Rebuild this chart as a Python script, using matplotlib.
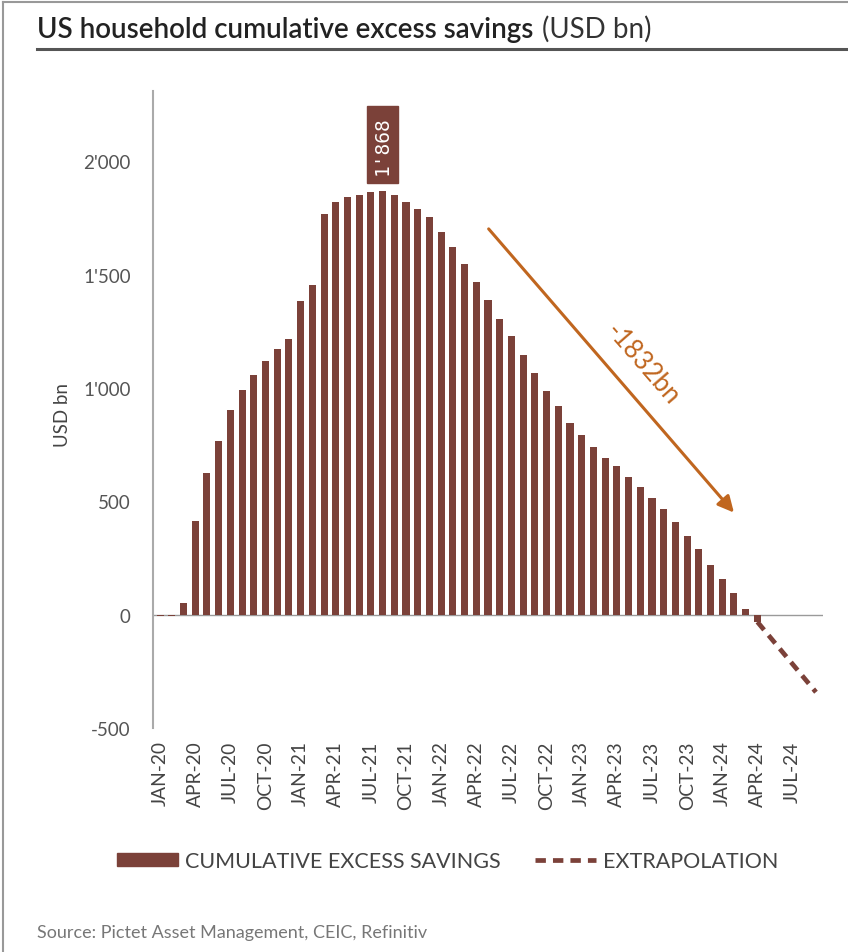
import matplotlib
matplotlib.use('Agg')
import matplotlib.pyplot as plt
from matplotlib.patches import Patch, Rectangle
from matplotlib.lines import Line2D

plt.rcParams['font.family'] = ['Lato', 'DejaVu Sans']

# cumulative excess savings per month, JAN-20 .. APR-24 (USD bn)
savings = [-8, -8, 53, 414, 625, 768, 904, 990, 1057, 1119,
           1172, 1216, 1385, 1454, 1766, 1821, 1843, 1850, 1866, 1868,
           1852, 1821, 1791, 1755, 1686, 1624, 1549, 1466, 1388, 1304,
           1228, 1145, 1066, 988, 922, 846, 793, 739, 692, 655,
           607, 563, 515, 464, 410, 349, 288, 219, 157, 97,
           26, -32]
# extrapolation APR-24 .. SEP-24
extrap = [-32, -94, -156, -218, -280, -342]
extrap_start = 51
tick_labels = ['JAN-20', 'APR-20', 'JUL-20', 'OCT-20', 'JAN-21', 'APR-21', 'JUL-21',
               'OCT-21', 'JAN-22', 'APR-22', 'JUL-22', 'OCT-22', 'JAN-23', 'APR-23',
               'JUL-23', 'OCT-23', 'JAN-24', 'APR-24', 'JUL-24']
yticks = [-500, 0, 500, 1000, 1500, 2000]
drop_label = '-1832bn'

brown = '#7b4139'
orange = '#c0661f'

W, H = 848, 953
def fx(x):
    return x / W
def fy(y):
    return 1 - y / H

fig = plt.figure(figsize=(W / 100, H / 100), dpi=100)
ax = fig.add_axes([fx(153), fy(729), (823 - 153) / W, (729 - 92) / H])

x = list(range(len(savings)))
ax.bar(x, savings, width=0.6, color=brown, zorder=3)
xe = list(range(extrap_start, extrap_start + len(extrap)))
ax.plot(xe, extrap, color=brown, lw=3.4, dashes=(2.2, 1.5), zorder=3)
ax.axhline(0, color='#9a9a9a', lw=1.0, zorder=2)

ax.set_xlim(-0.6, 56.6)
ax.set_ylim(-500, 2310)
ax.set_xticks(range(0, 3 * len(tick_labels), 3))
ax.set_xticklabels(tick_labels, rotation=90)
ax.set_yticks(yticks)
ax.set_yticklabels([f"{v:,}".replace(',', "'") for v in yticks])
ax.tick_params(axis='y', length=0, pad=16, labelsize=13.5, labelcolor='#555555')
ax.tick_params(axis='x', length=0, pad=9, labelsize=13.8, labelcolor='#444444')
for s in ['top', 'right', 'bottom']:
    ax.spines[s].set_visible(False)
ax.spines['left'].set_color('#aaaaaa')
ax.spines['left'].set_linewidth(1.5)

# peak value box
ipk = savings.index(max(savings))
pk = savings[ipk]
ax.add_patch(Rectangle((ipk - 1.33, pk + 35), 2.66, 340, color=brown, zorder=4))
ax.text(ipk, pk + 35 + 170, f"{pk:,}".replace(',', "'"), rotation=90, ha='center', va='center',
        color='white', fontsize=14, family='DejaVu Sans Mono', zorder=5)

# drawdown arrow
ax.annotate('', xy=(49.15, 441), xytext=(27.9, 1711),
            arrowprops=dict(arrowstyle='-|>', color=orange, lw=2.2, mutation_scale=24))
ax.text(41.2, 1110, drop_label, rotation=-49, rotation_mode='anchor', ha='center', va='center',
        color=orange, fontsize=18.5)

fig.text(fx(63), fy(415), 'USD bn', rotation=90, ha='center', va='center', fontsize=13.5, color='#444444')

# title
t1 = fig.text(fx(37), fy(38), 'US household cumulative excess savings', fontsize=20,
              fontweight='semibold', color='#222222', va='baseline')
r = fig.canvas.get_renderer()
bb = t1.get_window_extent(r)
fig.text(bb.x1 / W + fx(9), fy(38), '(USD bn)', fontsize=20, color='#333333', va='baseline')
fig.add_artist(Line2D([fx(37), 1], [fy(50), fy(50)], color='#555555', lw=2.2))

# outer frame
fig.add_artist(Line2D([fx(3), fx(3)], [0, fy(3)], color='#999999', lw=1.5))
fig.add_artist(Line2D([fx(3), 1], [fy(3), fy(3)], color='#999999', lw=1.5))

handles = [Patch(color=brown), Line2D([], [], color=brown, lw=3.4, dashes=(2.2, 1.5))]
fig.legend(handles, ['CUMULATIVE EXCESS SAVINGS', 'EXTRAPOLATION'], ncol=2, loc='center',
           bbox_to_anchor=(fx(448), fy(862)), frameon=False, fontsize=15.5, labelcolor='#444444',
           handlelength=2.8, handleheight=0.55, handletextpad=0.35, columnspacing=1.6)

fig.text(fx(37), fy(933), 'Source: Pictet Asset Management, CEIC, Refinitiv', fontsize=13,
         color='#777777', va='center')

fig.savefig('out.png', dpi=100)
